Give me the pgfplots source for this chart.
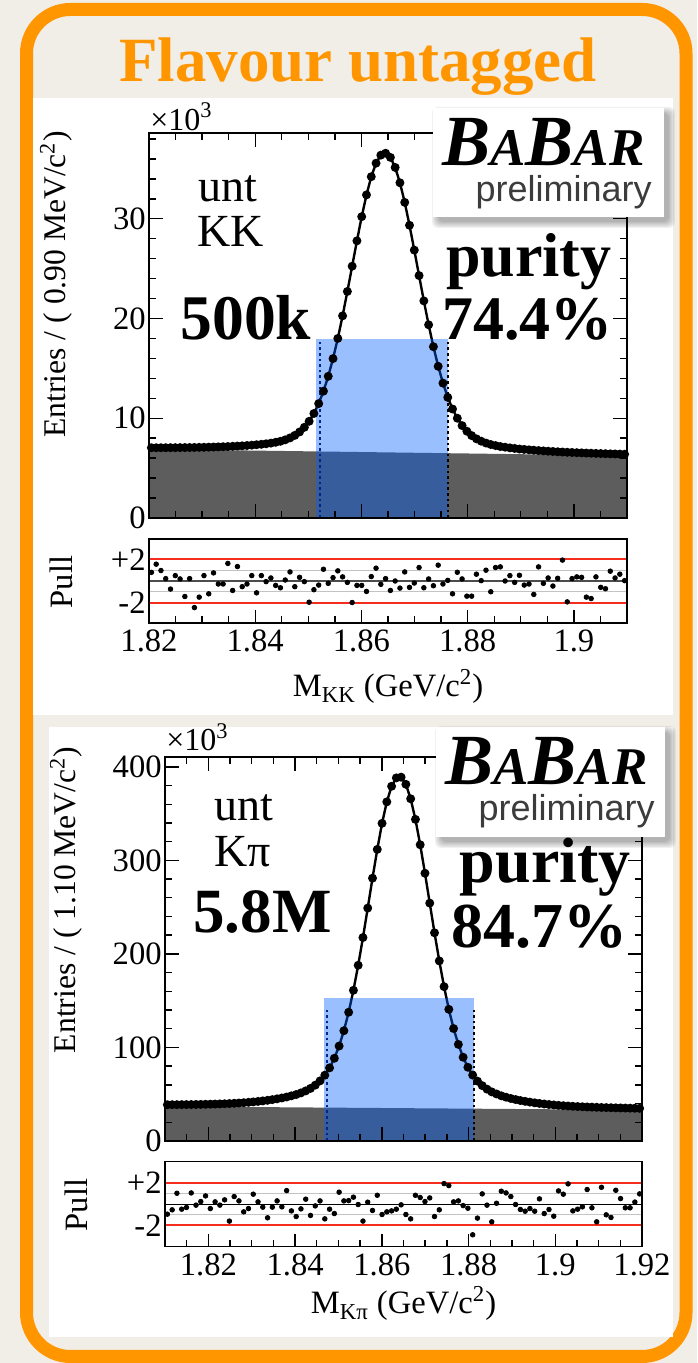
\documentclass[border=0pt]{standalone}
\usepackage{fontspec}
\setmainfont{Liberation Serif}
\newfontfamily\sansf{Liberation Sans}
\usepackage{pgfplots}
\pgfplotsset{compat=1.18}
\usepackage{pgfplotstable}

\definecolor{beige}{RGB}{241,237,231}
\definecolor{frameorange}{RGB}{255,150,0}
\definecolor{bkggray}{RGB}{93,93,93}
\definecolor{selblue}{RGB}{0,95,255}
\definecolor{pullred}{RGB}{245,45,30}
\definecolor{pullgray}{RGB}{195,195,195}
\definecolor{prelgray}{RGB}{60,60,60}

\pgfplotstableread{
x y p
1.82045 7.044 0.8
1.82135 7.044 1.56
1.82225 7.045 0.97
1.82315 7.046 0.22
1.82405 7.049 -0.75
1.82495 7.051 0.5
1.82585 7.056 0.19
1.82675 7.060 -1.44
1.82765 7.066 0.22
1.82855 7.072 -2.47
1.82945 7.081 -1.5
1.83035 7.090 0.5
1.83125 7.102 -1.19
1.83215 7.114 0.75
1.83305 7.129 -0.28
1.83395 7.145 -0.28
1.83485 7.165 1.63
1.83575 7.185 -0.88
1.83665 7.210 1.34
1.83755 7.235 -0.53
1.83845 7.267 -0.28
1.83935 7.300 0.5
1.84025 7.344 -1.1
1.84115 7.387 0.5
1.84205 7.441 -0.06
1.84295 7.504 0.28
1.84385 7.588 -0.41
1.84475 7.691 -0.63
1.84565 7.835 0.09
1.84655 8.028 0.84
1.84745 8.282 -0.53
1.84835 8.625 0.34
1.84925 9.089 -0.06
1.85015 9.692 -1.97
1.85105 10.476 -0.81
1.85195 11.469 -0.38
1.85285 12.713 1.09
1.85375 14.206 -0.22
1.85465 15.980 0.31
1.85555 18.003 0.94
1.85645 20.267 0.38
1.85735 22.710 -0.13
1.85825 25.244 -2.0
1.85915 27.787 -0.41
1.86005 30.211 -0.41
1.86095 32.394 -0.97
1.86185 34.218 0.41
1.86275 35.571 1.19
1.86365 36.375 -0.31
1.86455 36.568 0.22
1.86545 36.152 -0.88
1.86635 35.145 0
1.86725 33.609 -0.66
1.86815 31.642 0.84
1.86905 29.346 -0.59
1.86995 26.859 -0.19
1.87085 24.303 1.25
1.87175 21.766 -0.63
1.87265 19.370 0.19
1.87355 17.173 -0.44
1.87445 15.207 1.47
1.87535 13.520 -0.28
1.87625 12.094 0.06
1.87715 10.927 -1.19
1.87805 10.001 0.81
1.87895 9.264 0.19
1.87985 8.698 -1.41
1.88075 8.261 -1.41
1.88165 7.935 0.63
1.88255 7.698 0.03
1.88345 7.512 1.0
1.88435 7.365 -1.0
1.88525 7.259 1.25
1.88615 7.162 1.31
1.88705 7.096 0
1.88795 7.029 0.5
1.88885 6.973 -0.13
1.88975 6.916 0.53
1.89065 6.875 -0.38
1.89155 6.834 -0.28
1.89245 6.796 -1.25
1.89335 6.760 1.31
1.89425 6.727 -0.22
1.89515 6.695 0.28
1.89605 6.667 -0.47
1.89695 6.639 0.25
1.89785 6.614 1.94
1.89875 6.590 -1.94
1.89965 6.569 0.22
1.90055 6.548 0.38
1.90145 6.528 0.34
1.90235 6.510 -1.5
1.90325 6.493 -1.63
1.90415 6.476 0.38
1.90505 6.461 -0.59
1.90595 6.446 -0.72
1.90685 6.432 0.91
1.90775 6.418 0.28
1.90865 6.405 0.63
1.90955 6.392 0.03
}\kktab

\pgfplotstableread{
x y p
1.81055 38.77 -0.94
1.81165 38.80 -0.53
1.81275 38.84 1.03
1.81385 38.88 -0.47
1.81495 38.93 -0.31
1.81605 38.98 1.06
1.81715 39.05 -0.09
1.81825 39.13 0.25
1.81935 39.24 0.78
1.82045 39.35 -0.41
1.82155 39.48 0.22
1.82265 39.63 -0.09
1.82375 39.82 0.41
1.82485 40.05 -1.59
1.82595 40.30 0.72
1.82705 40.59 0.31
1.82815 40.93 -0.72
1.82925 41.32 -0.41
1.83035 41.78 0.94
1.83145 42.28 0.22
1.83255 42.86 -0.28
1.83365 43.50 -1.28
1.83475 44.23 -0.28
1.83585 45.08 0.31
1.83695 45.97 -0.25
1.83805 47.03 1.28
1.83915 48.29 -0.63
1.84025 49.65 -1.16
1.84135 51.42 -0.44
1.84245 53.58 0.47
1.84355 56.24 -1.06
1.84465 59.70 -0.16
1.84575 64.26 0.31
1.84685 70.33 -1.38
1.84795 78.19 -0.47
1.84905 88.45 -0.88
1.85015 101.51 1.13
1.85125 117.87 0.31
1.85235 137.64 0.34
1.85345 161.10 0.66
1.85455 187.86 -0.03
1.85565 217.52 -1.59
1.85675 248.99 0.19
1.85785 280.95 -0.59
1.85895 311.71 0.84
1.86005 339.57 -0.97
1.86115 362.53 -0.72
1.86225 379.20 -0.63
1.86335 388.16 -0.47
1.86445 388.92 -0.06
1.86555 381.28 -0.97
1.86665 365.84 -1.38
1.86775 343.80 0.84
1.86885 316.67 0.63
1.86995 286.23 0.25
1.87105 254.29 0.59
1.87215 222.55 -1.16
1.87325 192.51 -0.53
1.87435 164.98 1.94
1.87545 140.74 1.75
1.87655 120.20 0.22
1.87765 103.26 0.31
1.87875 89.52 -0.13
1.87985 78.79 -0.38
1.88095 70.45 -2.88
1.88205 64.01 -1.31
1.88315 59.17 0.97
1.88425 55.43 -0.09
1.88535 52.50 -1.66
1.88645 50.26 0.09
1.88755 48.32 1.22
1.88865 46.78 1.06
1.88975 45.45 0.72
1.89085 44.31 -0.03
1.89195 43.27 -0.5
1.89305 42.37 -0.66
1.89415 41.55 -0.41
1.89525 40.82 -0.66
1.89635 40.15 0.5
1.89745 39.55 -0.88
1.89855 39.02 -0.5
1.89965 38.54 -1.13
1.90075 38.12 1.25
1.90185 37.74 0.94
1.90295 37.40 1.91
1.90405 37.10 -0.63
1.90515 36.83 -0.47
1.90625 36.59 -0.25
1.90735 36.38 1.38
1.90845 36.18 -0.34
1.90955 36.01 -1.66
1.91065 35.84 1.59
1.91175 35.70 -1.0
1.91285 35.56 -1.25
1.91395 35.44 1.31
1.91505 35.32 0.53
1.91615 35.20 -0.34
1.91725 35.10 -0.34
1.91835 35.00 0.2
1.91945 34.90 0.97
}\kpitab

\pgfplotsset{
  rootaxis/.style={
    scale only axis, anchor=south west,
    axis line style={line width=0.8pt},
    tick style={line width=0.7pt, black},
    tick align=inside,
    axis on top,
    /pgf/number format/assume math mode=true,
    tick label style={font=\fontsize{16.3}{19}\selectfont},
    yticklabel style={inner xsep=1.5pt},
    scaled ticks=false,
  },
  cutline/.style={line width=1.3pt, dash pattern=on 1.3pt off 1.5pt},
  redline/.style={pullred, line width=1pt},
}

\newcommand{\babarbox}[4]{%
  \foreach \k in {0,...,5}{%
    \fill[black,opacity=0.055,rounded corners=3pt] ({#1pt+2.5pt-\k*0.6pt},{#2pt-2.5pt-\k*0.6pt}) rectangle ({#3pt+2.5pt+\k*0.6pt},{#4pt-2.5pt+\k*0.6pt});}%
  \fill[white] (#1pt,#2pt) rectangle (#3pt,#4pt);}
\newcommand{\babar}{{\bfseries\itshape\fontsize{36}{40}\selectfont B\fontsize{26.5}{30}\selectfont A\fontsize{36}{40}\selectfont B\fontsize{26.5}{30}\selectfont AR}}
\newcommand{\prelim}{{\sansf\fontsize{18}{21}\selectfont\color{prelgray}preliminary}}

\begin{document}
\begin{tikzpicture}
\useasboundingbox (0,0) rectangle (348.5pt,681.5pt);
\fill[beige] (0,0) rectangle (348.5pt,681.5pt);
\draw[frameorange, line width=6.5pt, rounded corners=22pt] (13.25pt,3.25pt) rectangle (343pt,676.75pt);
\node[anchor=base, text=frameorange, font=\bfseries\fontsize{31.5}{36}\selectfont, inner sep=0] at (179pt,640.5pt) {Flavour untagged};

% white panels
\fill[white] (16.5pt,324pt) rectangle (336.5pt,632.5pt);
\fill[white] (24.5pt,13pt) rectangle (336.5pt,318pt);

% ---------------- top: KK ----------------
\begin{axis}[rootaxis, at={(74.5pt,422.5pt)}, width=239pt, height=192.5pt,
  xmin=1.82, xmax=1.91, ymin=0, ymax=38.6,
  xtick={1.82,1.84,1.86,1.88,1.9}, xticklabels={},
  minor xtick={1.825,1.83,1.835,1.845,1.85,1.855,1.865,1.87,1.875,1.885,1.89,1.895,1.905},
  ytick={0,10,20,30}, yticklabels={0,10,20,30},
  minor ytick={2,4,6,8,12,14,16,18,22,24,26,28,32,34,36,38},
  xtick pos=both, ytick pos=both, yticklabel pos=left,
  major tick length=7pt, minor tick length=3.5pt]
\addplot[draw=none, fill=bkggray] coordinates {(1.82,6.9) (1.91,6.25)} \closedcycle;
\addplot[cutline, black!75!blue] coordinates {(1.8522,0) (1.8522,17.9)};
\addplot[black, line width=1.2pt, mark=*, mark size=1.6pt, mark options={solid}] table[x=x,y=y] {\kktab};
\addplot[draw=none, fill=selblue, fill opacity=0.4] coordinates {(1.8514,17.9) (1.8763,17.9)} \closedcycle;
\addplot[cutline, black] coordinates {(1.8763,0) (1.8763,17.9)};
\end{axis}

\begin{axis}[rootaxis, at={(74.5pt,370pt)}, width=239pt, height=42pt,
  xmin=1.82, xmax=1.91, ymin=-3.9, ymax=3.9,
  xtick={1.82,1.84,1.86,1.88,1.9}, xticklabels={1.82,1.84,1.86,1.88,1.9},
  minor xtick={1.825,1.83,1.835,1.845,1.85,1.855,1.865,1.87,1.875,1.885,1.89,1.895,1.905},
  ytick={-2,2}, yticklabels={-2,+2}, ytick style={draw=none},
  xtick pos=left, ytick pos=left,
  major tick length=6.5pt, minor tick length=3.3pt]
\addplot[pullgray, line width=0.6pt] coordinates {(1.82,1) (1.91,1)};
\addplot[pullgray, line width=0.6pt] coordinates {(1.82,-1) (1.91,-1)};
\addplot[black!70, line width=0.6pt] coordinates {(1.82,0) (1.91,0)};
\addplot[redline] coordinates {(1.82,2) (1.91,2)};
\addplot[redline] coordinates {(1.82,-2) (1.91,-2)};
\addplot[only marks, mark=*, mark size=1.15pt, black] table[x=x,y=p] {\kktab};
\end{axis}

% ---------------- bottom: Kpi ----------------
\begin{axis}[rootaxis, at={(82.5pt,111pt)}, width=238.5pt, height=192pt,
  xmin=1.81, xmax=1.92, ymin=0, ymax=410.5,
  xtick={1.82,1.84,1.86,1.88,1.9,1.92}, xticklabels={},
  minor xtick={1.815,1.825,1.83,1.835,1.845,1.85,1.855,1.865,1.87,1.875,1.885,1.89,1.895,1.905,1.91,1.915},
  ytick={0,100,200,300,400}, yticklabels={0,100,200,300,400},
  minor ytick={20,40,60,80,120,140,160,180,220,240,260,280,320,340,360,380},
  xtick pos=both, ytick pos=both, yticklabel pos=left,
  major tick length=7pt, minor tick length=3.5pt]
\addplot[draw=none, fill=bkggray] coordinates {(1.81,36.98) (1.92,33.2)} \closedcycle;
\addplot[cutline, black!75!blue] coordinates {(1.8474,0) (1.8474,141)};
\addplot[black, line width=1.2pt, mark=*, mark size=1.6pt, mark options={solid}] table[x=x,y=y] {\kpitab};
\addplot[draw=none, fill=selblue, fill opacity=0.4] coordinates {(1.8467,152.7) (1.8812,152.7)} \closedcycle;
\addplot[cutline, black] coordinates {(1.8813,0) (1.8813,141)};
\end{axis}

\begin{axis}[rootaxis, at={(82.5pt,58.15pt)}, width=238.5pt, height=42.5pt,
  xmin=1.81, xmax=1.92, ymin=-4, ymax=4,
  xtick={1.82,1.84,1.86,1.88,1.9,1.92}, xticklabels={1.82,1.84,1.86,1.88,1.9,1.92},
  minor xtick={1.815,1.825,1.83,1.835,1.845,1.85,1.855,1.865,1.87,1.875,1.885,1.89,1.895,1.905,1.91,1.915},
  ytick={-2,2}, yticklabels={-2,+2}, ytick style={draw=none},
  xtick pos=left, ytick pos=left,
  major tick length=6.5pt, minor tick length=3.3pt]
\addplot[pullgray, line width=0.6pt] coordinates {(1.81,1) (1.92,1)};
\addplot[pullgray, line width=0.6pt] coordinates {(1.81,-1) (1.92,-1)};
\addplot[black, line width=0.6pt] coordinates {(1.81,0) (1.92,0)};
\addplot[redline] coordinates {(1.81,2) (1.92,2)};
\addplot[redline] coordinates {(1.81,-2) (1.92,-2)};
\addplot[only marks, mark=*, mark size=1.15pt, black] table[x=x,y=p] {\kpitab};
\end{axis}

% ---------------- labels top ----------------
\node[rotate=90, font=\fontsize{15.8}{18}\selectfont, inner sep=0] at (28pt,539.25pt) {Entries / ( 0.90 MeV/c\textsuperscript{2})};
\node[rotate=90, font=\fontsize{16.3}{19}\selectfont, inner sep=0] at (30.5pt,390.5pt) {Pull};
\node[anchor=base, font=\fontsize{16.3}{19}\selectfont, inner sep=0] at (194pt,333pt) {M\textsubscript{KK} (GeV/c\textsuperscript{2})};
\node[anchor=base west, font=\fontsize{16}{19}\selectfont, inner sep=0] at (75pt,616.3pt) {×10\textsuperscript{3}};
\node[anchor=base west, font=\fontsize{23}{27}\selectfont, inner sep=0] at (99pt,580.7pt) {unt};
\node[anchor=base west, font=\fontsize{23}{27}\selectfont, inner sep=0] at (98.5pt,558.2pt) {KK};
\node[anchor=base west, font=\bfseries\fontsize{31.8}{36}\selectfont, inner sep=0] at (90pt,511.5pt) {500k};
\babarbox{216.5}{573}{332}{627.5}
\node[anchor=base west, inner sep=0] at (221pt,598.6pt) {\babar};
\node[anchor=base east, inner sep=0] at (326pt,580.8pt) {\prelim};
\node[anchor=base east, font=\bfseries\fontsize{31}{36}\selectfont, inner sep=0] at (306pt,543pt) {purity};
\node[anchor=base east, font=\bfseries\fontsize{31}{36}\selectfont, inner sep=0] at (306.5pt,511.5pt) {74.4\%};

% ---------------- labels bottom ----------------
\node[rotate=90, font=\fontsize{15.8}{18}\selectfont, inner sep=0] at (33pt,231.5pt) {Entries / ( 1.10 MeV/c\textsuperscript{2})};
\node[rotate=90, font=\fontsize{16.3}{19}\selectfont, inner sep=0] at (38pt,79pt) {Pull};
\node[anchor=base, font=\fontsize{16.3}{19}\selectfont, inner sep=0] at (201.75pt,24.5pt) {M\textsubscript{Kπ} (GeV/c\textsuperscript{2})};
\node[anchor=base west, font=\fontsize{16}{19}\selectfont, inner sep=0] at (83pt,306pt) {×10\textsuperscript{3}};
\node[anchor=base west, font=\fontsize{23}{27}\selectfont, inner sep=0] at (107pt,271pt) {unt};
\node[anchor=base west, font=\fontsize{23}{27}\selectfont, inner sep=0] at (107pt,248pt) {Kπ};
\node[anchor=base west, font=\bfseries\fontsize{31.5}{36}\selectfont, inner sep=0] at (96.5pt,215pt) {5.8M};
\babarbox{218}{263}{332.5}{318}
\node[anchor=base west, inner sep=0] at (222.5pt,289.4pt) {\babar};
\node[anchor=base east, inner sep=0] at (327.5pt,271.3pt) {\prelim};
\node[anchor=base east, font=\bfseries\fontsize{32}{36}\selectfont, inner sep=0] at (315.5pt,240pt) {purity};
\node[anchor=base east, font=\bfseries\fontsize{32}{36}\selectfont, inner sep=0] at (314pt,207.5pt) {84.7\%};
\end{tikzpicture}
\end{document}
